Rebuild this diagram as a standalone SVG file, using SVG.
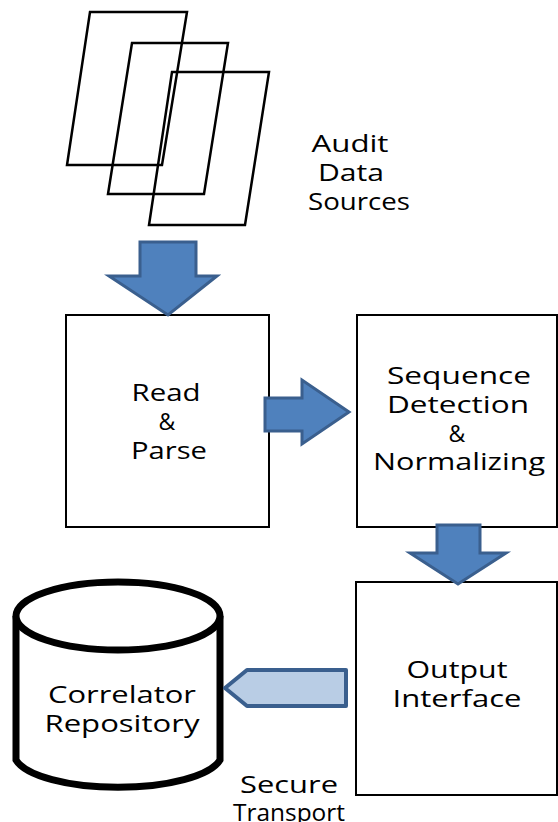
<svg xmlns="http://www.w3.org/2000/svg" width="558" height="822" viewBox="0 0 558 822">
<style>
.t{font-family:"Open Sans","DejaVu Sans",sans-serif;font-size:23px;fill:#000;text-anchor:middle}
.page{fill:none;stroke:#000;stroke-width:2.5}
.box{fill:#fff;stroke:#000;stroke-width:2}
.ar{fill:#4F81BD;stroke:#3A5F8E;stroke-width:3;stroke-linejoin:miter}
.arl{fill:#B9CDE5;stroke:#3A5F8E;stroke-width:4;stroke-linejoin:round}
</style>
<rect width="558" height="822" fill="#fff"/>
<g id="sources">
<polygon class="page" points="90,12 187,12 162,165 67,165"/>
<polygon class="page" points="132,43 228,43 204,194 108,194"/>
<polygon class="page" points="172,72 269,72 245,225 149,225"/>
<text class="t" x="350" y="152" textLength="77" lengthAdjust="spacingAndGlyphs">Audit</text>
<text class="t" x="351" y="181" textLength="66" lengthAdjust="spacingAndGlyphs">Data</text>
<text class="t" x="359" y="210" textLength="102" lengthAdjust="spacingAndGlyphs">Sources</text>
</g>
<g id="read">
<rect class="box" x="66" y="315" width="203" height="212"/>
<text class="t" x="166" y="401" textLength="69" lengthAdjust="spacingAndGlyphs">Read</text>
<text class="t" x="167" y="430">&amp;</text>
<text class="t" x="169" y="459" textLength="76" lengthAdjust="spacingAndGlyphs">Parse</text>
</g>
<g id="sequence">
<rect class="box" x="357" y="315" width="200" height="212"/>
<text class="t" x="459" y="384" textLength="144" lengthAdjust="spacingAndGlyphs">Sequence</text>
<text class="t" x="458" y="413" textLength="142" lengthAdjust="spacingAndGlyphs">Detection</text>
<text class="t" x="457" y="442">&amp;</text>
<text class="t" x="459" y="470" textLength="172" lengthAdjust="spacingAndGlyphs">Normalizing</text>
</g>
<g id="output">
<rect class="box" x="356" y="582" width="201" height="213"/>
<text class="t" x="457" y="678" textLength="101" lengthAdjust="spacingAndGlyphs">Output</text>
<text class="t" x="457" y="707" textLength="129" lengthAdjust="spacingAndGlyphs">Interface</text>
</g>
<g id="repository">
<path d="M16,616 L16,760 A104,34 0 0 0 220,760 L220,616" fill="#fff" stroke="#000" stroke-width="7"/>
<ellipse cx="118" cy="616" rx="102" ry="34" fill="#fff" stroke="#000" stroke-width="7"/>
<text class="t" x="122" y="703" textLength="148" lengthAdjust="spacingAndGlyphs">Correlator</text>
<text class="t" x="122" y="732" textLength="155" lengthAdjust="spacingAndGlyphs">Repository</text>
</g>
<g id="connectors">
<polygon class="ar" points="140,242 196,242 196,276 217,276 168,315 109,276 140,276"/>
<polygon class="ar" points="265,398 302,398 302,380 349,412 302,444 302,431 265,431"/>
<polygon class="ar" points="437,525 480,525 480,553 506,553 458,584 410,553 437,553"/>
<polygon class="arl" points="346,670 346,706 247,706 225,688 247,670"/>
<text class="t" x="289" y="793" textLength="98" lengthAdjust="spacingAndGlyphs">Secure</text>
<text class="t" x="289" y="821" textLength="112" lengthAdjust="spacingAndGlyphs">Transport</text>
</g>
</svg>
